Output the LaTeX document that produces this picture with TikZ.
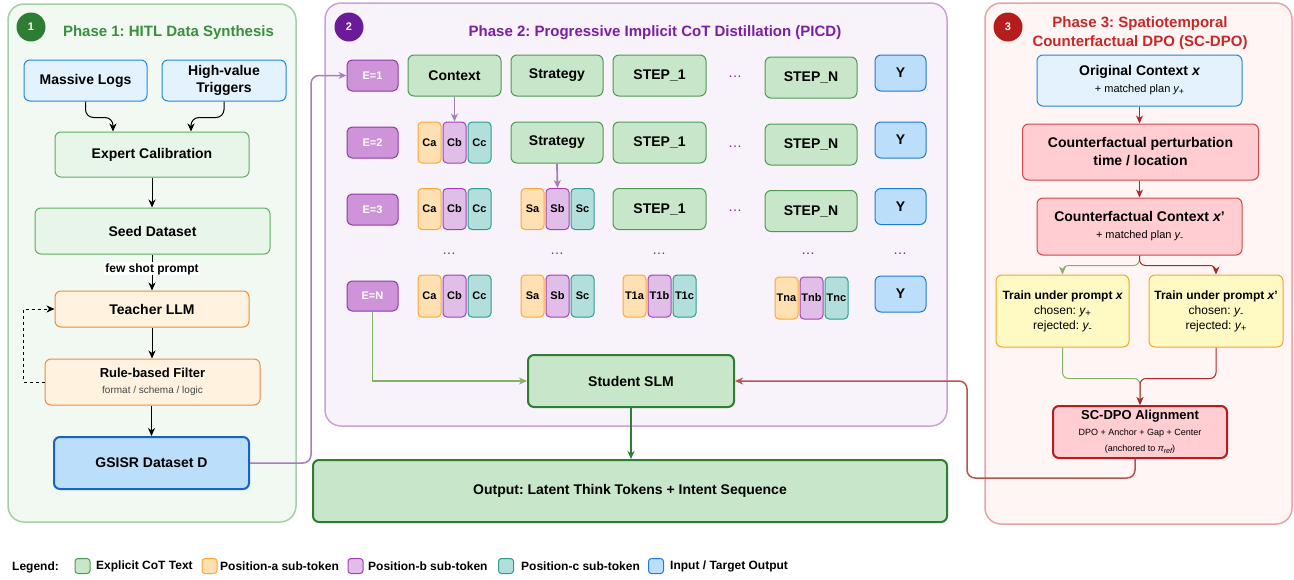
\documentclass[tikz,border=0pt]{standalone}
\usepackage{fontspec}
\usepackage{graphicx}
\setmainfont{Liberation Sans}
\usetikzlibrary{arrows.meta}
\frenchspacing

% palette
\definecolor{pAfill}{HTML}{F2F8F2}\definecolor{pAdraw}{HTML}{A5CFA7}\definecolor{pAtitle}{HTML}{3A8E3E}\definecolor{badgeA}{HTML}{2E7D32}
\definecolor{pBfill}{HTML}{F8F3FA}\definecolor{pBdraw}{HTML}{C9A3D6}\definecolor{pBtitle}{HTML}{7B1FA2}\definecolor{badgeB}{HTML}{6A1B9A}
\definecolor{pCfill}{HTML}{FFF5F5}\definecolor{pCdraw}{HTML}{E6A4A4}\definecolor{pCtitle}{HTML}{C62828}\definecolor{badgeC}{HTML}{B71C1C}
\definecolor{lgfill}{HTML}{E8F5E9}\definecolor{lgdraw}{HTML}{5FAE63}
\definecolor{cotfill}{HTML}{C8E6C9}\definecolor{cotdraw}{HTML}{4E9A52}
\definecolor{infill}{HTML}{E3F2FD}\definecolor{indraw}{HTML}{1E88E5}
\definecolor{yfill}{HTML}{BBDEFB}\definecolor{ydraw}{HTML}{1E7BD8}
\definecolor{gsdraw}{HTML}{1565C0}
\definecolor{orfill}{HTML}{FFF3E0}\definecolor{ordraw}{HTML}{EF8C3B}
\definecolor{afill}{HTML}{FFE0B2}\definecolor{adraw}{HTML}{FFA733}
\definecolor{bfill}{HTML}{E1BEE7}\definecolor{bdraw}{HTML}{A43FB8}
\definecolor{cfill}{HTML}{B2DFDB}\definecolor{cdraw}{HTML}{2A9D8F}
\definecolor{efill}{HTML}{CE93D8}\definecolor{edraw}{HTML}{8E3BA8}
\definecolor{rfill}{HTML}{FFCDD2}\definecolor{rdraw}{HTML}{D14545}
\definecolor{scdraw}{HTML}{B71C1C}
\definecolor{yelfill}{HTML}{FFF9C4}\definecolor{yeldraw}{HTML}{F5A623}
\definecolor{linkp}{HTML}{A77DBA}\definecolor{linkg}{HTML}{82B366}
\definecolor{linkr}{HTML}{B85450}\definecolor{innerred}{HTML}{B02626}
\definecolor{dotcol}{HTML}{7B1FA2}\definecolor{studraw}{HTML}{2E7D32}

\newcommand\fsz[2]{\fontsize{#1}{#2}\selectfont}
% lowered, slightly reduced index text
\newcommand\idx[1]{\raisebox{-0.35ex}{\scalebox{0.8}{#1}}}

\begin{document}
\begin{tikzpicture}[x=1pt,y=-1pt,
  panel/.style={rounded corners=16pt, line width=1.5pt},
  badge/.style={circle, minimum size=29pt, inner sep=0pt, text=white, font=\fsz{11}{13}\bfseries},
  ptitle/.style={font=\fsz{15}{19}\bfseries, align=center},
  bx/.style={rectangle, rounded corners=6pt, line width=1pt, align=center, inner sep=2pt, text=black},
  lightgreen/.style={bx, fill=lgfill, draw=lgdraw, font=\fsz{14}{17}\bfseries},
  inbox/.style={bx, fill=infill, draw=indraw, font=\fsz{14}{17}\bfseries},
  orbox/.style={bx, fill=orfill, draw=ordraw, font=\fsz{14}{17}\bfseries},
  cot/.style={bx, fill=cotfill, draw=cotdraw, font=\fsz{14}{17}\bfseries},
  ybox/.style={bx, fill=yfill, draw=ydraw, minimum width=51pt, minimum height=36pt, font=\fsz{14}{17}\bfseries},
  ebox/.style={bx, rounded corners=5pt, fill=efill, draw=edraw, text=white, minimum width=51pt, minimum height=31pt, font=\fsz{11}{13}\bfseries},
  tok/.style={bx, rounded corners=4pt, inner sep=0pt, minimum width=23pt, minimum height=41pt, font=\fsz{11}{13}\bfseries},
  toka/.style={tok, fill=afill, draw=adraw},
  tokb/.style={tok, fill=bfill, draw=bdraw},
  tokc/.style={tok, fill=cfill, draw=cdraw},
  redbox/.style={bx, fill=rfill, draw=rdraw, font=\fsz{14}{17}\bfseries},
  trainbox/.style={bx, fill=yelfill, draw=yeldraw, font=\fsz{12}{15}},
  arr/.style={-{Stealth[length=8pt,width=7pt,inset=2.5pt]}, line width=1pt},
  dotsn/.style={text=dotcol, font=\fsz{14}{17}, inner sep=0pt},
  swatch/.style={rectangle, rounded corners=3pt, line width=1pt, minimum width=15pt, minimum height=15pt, inner sep=0pt},
  legtext/.style={anchor=west, font=\fsz{12}{14}\bfseries, inner sep=0pt},
]
\useasboundingbox (0,0) rectangle (1294,579);
\fill[white] (0,0) rectangle (1294,579);

% ---------- panels ----------
\draw[panel, fill=pAfill, draw=pAdraw] (8,4) rectangle (296,522);
\draw[panel, fill=pBfill, draw=pBdraw] (325,3) rectangle (947,426);
\draw[panel, fill=pCfill, draw=pCdraw] (985,3) rectangle (1292,524);

\node[badge, fill=badgeA] (b1) at (31,27) {1};
\node[badge, fill=badgeB] (b2) at (349,27) {2};
\node[badge, fill=badgeC] (b3) at (1008,27) {3};

\node[ptitle, text=pAtitle] (t1) at (168.5,33) {Phase 1: HITL Data Synthesis};
\node[ptitle, text=pBtitle] (t2) at (655,33) {Phase 2: Progressive Implicit CoT Distillation (PICD)};
\node[ptitle, text=pCtitle] (t3) at (1140,33) {Phase 3: Spatiotemporal\\Counterfactual DPO (SC-DPO)};

% ---------- Phase 1 ----------
\node[inbox, minimum width=123pt, minimum height=41pt] (logs) at (85.5,80.5) {Massive Logs};
\node[inbox, minimum width=124pt, minimum height=41pt] (trig) at (224,80.5) {High-value\\Triggers};
\node[lightgreen, minimum width=194pt, minimum height=45pt] (expert) at (152,154.5) {Expert Calibration};
\node[lightgreen, minimum width=235pt, minimum height=46pt] (seed) at (152.5,231) {Seed Dataset};
\node[orbox, minimum width=194pt, minimum height=36pt] (teacher) at (152,309) {Teacher LLM};
\node[orbox, minimum width=215pt, minimum height=46pt, font=\fsz{13}{16}\bfseries] (filter) at (152.5,382)
  {Rule-based Filter\\{\fsz{10}{13}\mdseries\color[HTML]{444444}format / schema / logic}};
\node[bx, fill=yfill, draw=gsdraw, line width=2pt, minimum width=195pt, minimum height=52pt, font=\fsz{14}{17}\bfseries] (gsisr) at (151.5,463) {GSISR Dataset D};

\draw[arr, rounded corners=8pt] (logs.south) -- ++(0,16) -| ([xshift=-39pt]expert.north);
\draw[arr, rounded corners=8pt] (trig.south) -- ++(0,16) -| ([xshift=39pt]expert.north);
\draw[arr] (expert.south) -- (expert.south |- seed.north);
\draw[arr] (seed.south -| teacher.north) -- node[pos=0.4, fill=white, inner sep=1pt, font=\fsz{12}{14}\bfseries] {few shot prompt} (teacher.north);
\draw[arr] (teacher.south) -- (teacher.south |- filter.north);
\draw[arr] (filter.south -| gsisr.north) -- (gsisr.north);
\draw[arr, dashed, line width=0.9pt] (filter.west) -- ++(-21,0) |- (teacher.west);

% ---------- Phase 2 ----------
% row E=1
\node[ebox] (e1) at (372.5,75.5) {E=1};
\node[cot, minimum width=93pt, minimum height=41pt] (ctx1) at (454.5,75.5) {Context};
\node[cot, minimum width=92pt, minimum height=41pt] (str1) at (557,75.5) {Strategy};
\node[cot, minimum width=93pt, minimum height=41pt] (sa1) at (659.5,75.5) {STEP\_1};
\node[dotsn] (d1) at (735,77) {…};
\node[cot, minimum width=92pt, minimum height=41pt] (sn1) at (811,77.5) {STEP\_N};
\node[ybox] (y1) at (900.5,73) {Y};

% row E=2
\node[ebox] (e2) at (372.5,142.5) {E=2};
\node[toka] (ca2) at (429.5,142.5) {Ca};
\node[tokb] (cb2) at (454.5,142.5) {Cb};
\node[tokc] (cc2) at (479.5,142.5) {Cc};
\node[cot, minimum width=92pt, minimum height=41pt] (str2) at (557,142.5) {Strategy};
\node[cot, minimum width=93pt, minimum height=41pt] (sa2) at (659.5,142.5) {STEP\_1};
\node[dotsn] (d2) at (735,147) {…};
\node[cot, minimum width=92pt, minimum height=41pt] (sn2) at (811,144.5) {STEP\_N};
\node[ybox] (y2) at (900.5,140) {Y};

% row E=3
\node[ebox] (e3) at (372.5,209.5) {E=3};
\node[toka] (ca3) at (429.5,209) {Ca};
\node[tokb] (cb3) at (454.5,209) {Cb};
\node[tokc] (cc3) at (479.5,209) {Cc};
\node[toka] (sa3) at (532.5,209) {Sa};
\node[tokb] (sb3) at (557.5,209) {Sb};
\node[tokc] (sc3) at (582.5,209) {Sc};
\node[cot, minimum width=93pt, minimum height=41pt] (st3) at (659.5,209) {STEP\_1};
\node[dotsn] (d3) at (735,211) {…};
\node[cot, minimum width=92pt, minimum height=41pt] (sn3) at (811,211) {STEP\_N};
\node[ybox] (y3) at (900.5,206.5) {Y};

% elided rows
\node[dotsn] (v1) at (449,254) {…};
\node[dotsn] (v2) at (557,254) {…};
\node[dotsn] (v3) at (659,254) {…};
\node[dotsn] (v4) at (808,254) {…};
\node[dotsn] (v5) at (900,254) {…};

% row E=N
\node[ebox, minimum height=30pt] (eN) at (372.5,296) {E=N};
\node[toka, minimum height=42pt] (caN) at (429.5,296) {Ca};
\node[tokb, minimum height=42pt] (cbN) at (454.5,296) {Cb};
\node[tokc, minimum height=42pt] (ccN) at (479.5,296) {Cc};
\node[toka, minimum height=42pt] (saN) at (532.5,296) {Sa};
\node[tokb, minimum height=42pt] (sbN) at (557.5,296) {Sb};
\node[tokc, minimum height=42pt] (scN) at (582.5,296) {Sc};
\node[toka, minimum height=42pt] (t1a) at (634.5,296) {T1a};
\node[tokb, minimum height=42pt] (t1b) at (659.5,296) {T1b};
\node[tokc, minimum height=42pt] (t1c) at (684.5,296) {T1c};
\node[toka, minimum height=42pt] (tna) at (786.5,298) {Tna};
\node[tokb, minimum height=42pt] (tnb) at (811.5,298) {Tnb};
\node[tokc, minimum height=42pt] (tnc) at (836.5,298) {Tnc};
\node[ybox] (yN) at (900.5,294) {Y};

\node[cot, draw=studraw, line width=2pt, minimum width=206pt, minimum height=52pt] (student) at (631,381) {Student SLM};
\node[cot, draw=studraw, line width=2pt, minimum width=634pt, minimum height=62pt] (output) at (630,491) {Output: Latent Think Tokens + Intent Sequence};

\draw[arr, draw=linkp, line width=1.5pt, rounded corners=8pt] (gsisr.east) -- ++(61,0) |- (e1.west);
\draw[arr, draw=linkp, line width=1.8pt] (ctx1.south) -- (cb2.north);
\draw[arr, draw=linkp, line width=1.8pt] (str2.south) -- (sb3.north);
\draw[arr, draw=linkg, line width=1.5pt] (eN.south) |- (student.west);
\draw[arr, draw=studraw, line width=1.5pt] (student.south) -- (student.south |- output.north);

% ---------- Phase 3 ----------
\node[inbox, minimum width=205pt, minimum height=51pt, font=\fsz{14}{17}\bfseries] (orig) at (1139.5,80.5)
  {Original Context {\itshape x}\\{\fsz{11}{15}\mdseries + matched plan {\itshape y}\idx{+}}};
\node[redbox, minimum width=236pt, minimum height=56pt, font=\fsz{14}{18}\bfseries] (pert) at (1140.5,152)
  {Counterfactual perturbation\\time / location};
\node[redbox, minimum width=205pt, minimum height=57pt] (cfx) at (1139.5,226.5)
  {Counterfactual Context {\itshape x}'\\{\fsz{11}{15}\mdseries + matched plan {\itshape y}\idx{-}}};
\node[trainbox, minimum width=133pt, minimum height=72pt] (trx) at (1062.5,311)
  {{\bfseries Train under prompt {\itshape x}}\\chosen: {\itshape y}\idx{+}\\rejected: {\itshape y}\idx{-}};
\node[trainbox, minimum width=134pt, minimum height=72pt] (trxp) at (1216,311)
  {{\bfseries Train under prompt {\itshape x}'}\\chosen: {\itshape y}\idx{-}\\rejected: {\itshape y}\idx{+}};
\node[bx, fill=rfill, draw=scdraw, line width=2pt, minimum width=174pt, minimum height=52pt, font=\fsz{9}{16}] (scdpo) at (1140,432)
  {{\fsz{13}{16}\bfseries SC-DPO Alignment}\\DPO + Anchor + Gap + Center\\(anchored to {\itshape π}\idx{\itshape ref})};

\draw[arr, draw=innerred] (orig.south) -- (orig.south |- pert.north);
\draw[arr, draw=innerred] (pert.south -| cfx.north) -- (cfx.north);
\draw[arr, draw=linkg, rounded corners=6pt] (cfx.south) -- ++(0,10) -| (trx.north);
\draw[arr, draw=innerred, rounded corners=6pt] (cfx.south) -- ++(0,10) -| (trxp.north);
\draw[arr, draw=linkg, rounded corners=6pt] (trx.south) -- ++(0,31) -| (scdpo.north);
\draw[arr, draw=innerred, rounded corners=6pt] (trxp.south) -- ++(0,31) -| (scdpo.north);

\coordinate (rturn) at (967,478);
\draw[arr, draw=linkr, line width=1.5pt, rounded corners=8pt] ([xshift=-5pt]scdpo.south) |- (rturn) |- (student.east);

% ---------- legend ----------
\node[anchor=west, font=\fsz{12}{14}\bfseries, inner sep=0pt] (legend) at (12,567) {Legend:};
\node[swatch, fill=cotfill, draw=cotdraw] (lg1) at (82.5,566) {};
\node[legtext] (lt1) at (96,566) {Explicit CoT Text};
\node[swatch, fill=afill, draw=adraw] (lg2) at (209.5,566) {};
\node[legtext] (lt2) at (220,566) {Position-a sub-token};
\node[swatch, fill=bfill, draw=bdraw] (lg3) at (355.5,566) {};
\node[legtext] (lt3) at (368,566) {Position-b sub-token};
\node[swatch, fill=cfill, draw=cdraw] (lg4) at (506,566) {};
\node[legtext] (lt4) at (521,566) {Position-c sub-token};
\node[swatch, fill=yfill, draw=ydraw] (lg5) at (656,566) {};
\node[legtext] (lt5) at (670,566) {Input / Target Output};
\end{tikzpicture}
\end{document}
